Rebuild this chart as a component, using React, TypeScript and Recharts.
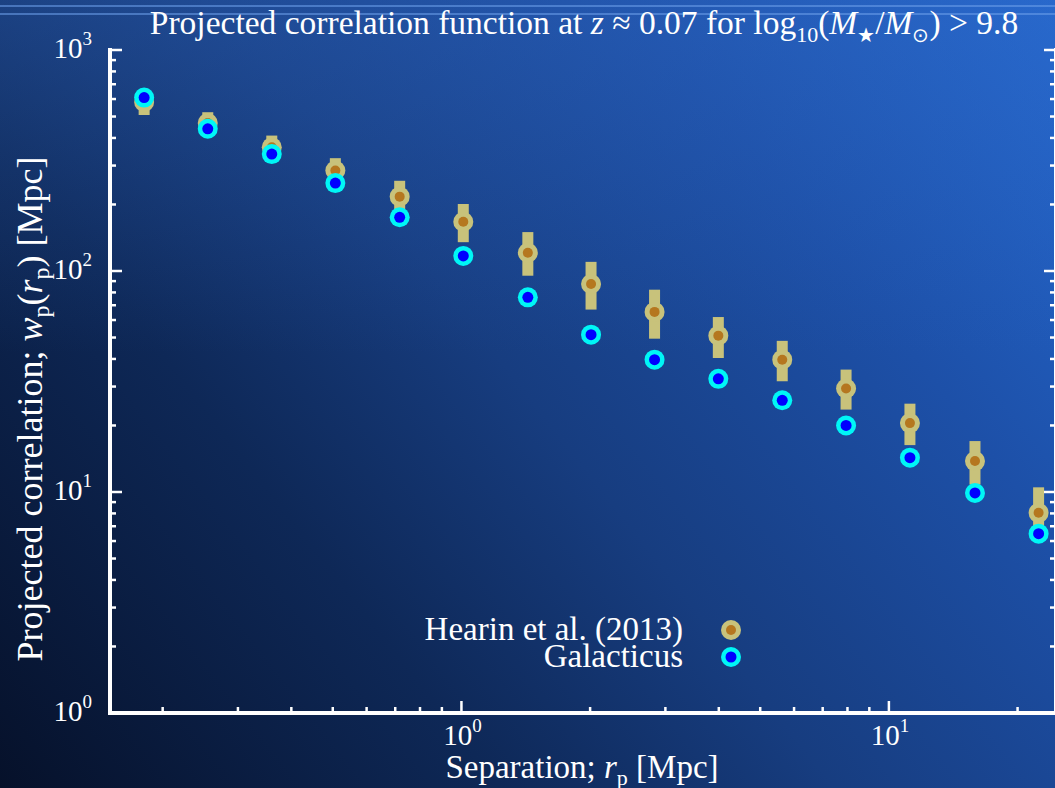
import { ScatterChart, Scatter, XAxis, YAxis, ErrorBar, Legend } from 'recharts'

// separation r_p [Mpc], same bins for both samples
const SEPARATION = [0.181, 0.255, 0.36, 0.507, 0.717, 1.01, 1.43, 2.01, 2.83, 3.99, 5.63, 7.94, 11.2, 15.9, 22.4]

// Hearin et al. (2013) w_p(r_p) with lower / upper bounds of the error bars
const HEARIN_WP = [582, 467, 363, 285, 217, 167, 121, 87.3, 65.3, 51.0, 39.7, 29.4, 20.5, 13.8, 8.05]
const HEARIN_LOW = [508, 417, 321, 250, 180, 135, 95.2, 66.9, 49.4, 40.4, 31.7, 23.6, 16.3, 10.8, 6.0]
const HEARIN_HIGH = [660, 523, 410, 324, 256, 201, 150, 110, 82.3, 61.9, 48.3, 35.8, 25.1, 17.0, 10.5]

// Galacticus model w_p(r_p)
const GALACTICUS_WP = [609, 440, 338, 250, 175, 117, 76.0, 51.5, 39.7, 32.5, 26.0, 20.0, 14.3, 9.9, 6.48]

const X_TICKS = [0.2, 0.3, 0.4, 0.5, 0.6, 0.7, 0.8, 0.9, 1, 2, 3, 4, 5, 6, 7, 8, 9, 10, 20]
const Y_TICKS = [1, 2, 3, 4, 5, 6, 7, 8, 9, 10, 20, 30, 40, 50, 60, 70, 80, 90, 100, 200, 300, 400, 500, 600, 700, 800, 900, 1000]
const MAJOR_TICKS = [1, 10, 100, 1000]
const X_DOMAIN = [0.1506, 24.6]
const Y_DOMAIN = [1, 1000]

const SERIES_NAMES = ['Hearin et al. (2013)', 'Galacticus']

const FONT = '"Liberation Serif", "Times New Roman", serif'
const WHITE = '#ffffff'
const KHAKI = '#c8c27b'
const BROWN = '#b5771f'
const CYAN = '#00f6f6'
const BLUE = '#0000ff'

const hearinData = SEPARATION.map((r, i) => ({
    r,
    wp: HEARIN_WP[i],
    err: [HEARIN_WP[i] - HEARIN_LOW[i], HEARIN_HIGH[i] - HEARIN_WP[i]],
}))
const galacticusData = SEPARATION.map((r, i) => ({ r, wp: GALACTICUS_WP[i] }))

const isMajor = (v: number) => MAJOR_TICKS.includes(v)

function PowerLabel({ x, y, value, anchor }: any) {
    return (
        <text x={x} y={y} textAnchor={anchor} fill={WHITE} fontFamily={FONT} fontSize={29}>
            10<tspan fontSize={19} dy={-13}>{Math.round(Math.log10(value))}</tspan>
        </text>
    )
}

// ticks point inwards, like the original plot
const BottomTick = ({ x, y, payload }: any) => {
    const major = isMajor(payload.value)
    return (
        <g>
            <line x1={x} x2={x} y1={y} y2={y - (major ? 12 : 6)} stroke={WHITE} strokeWidth={2.5} />
            {major && <PowerLabel x={x + 1} y={y + 32} value={payload.value} anchor="middle" />}
        </g>
    )
}
const TopTick = ({ x, y, payload }: any) => (
    <line x1={x} x2={x} y1={y} y2={y + (isMajor(payload.value) ? 12 : 6)} stroke={WHITE} strokeWidth={2.5} />
)
const LeftTick = ({ x, y, payload }: any) => {
    const major = isMajor(payload.value)
    return (
        <g>
            <line x1={x} x2={x + (major ? 12 : 6)} y1={y} y2={y} stroke={WHITE} strokeWidth={2.5} />
            {major && <PowerLabel x={92} y={y + 8} value={payload.value} anchor="end" />}
        </g>
    )
}
const RightTick = ({ x, y, payload }: any) => (
    <line x1={x} x2={x - (isMajor(payload.value) ? 12 : 6)} y1={y} y2={y} stroke={WHITE} strokeWidth={2.5} />
)

const HearinMarker = ({ cx, cy }: any) => (
    <g>
        <circle cx={cx} cy={cy} r={10} fill={KHAKI} />
        <circle cx={cx} cy={cy} r={5} fill={BROWN} />
    </g>
)
const GalacticusMarker = ({ cx, cy }: any) => (
    <g>
        <circle cx={cx} cy={cy} r={10} fill={CYAN} />
        <circle cx={cx} cy={cy} r={5.5} fill={BLUE} />
    </g>
)

function LegendBox() {
    const markers = [HearinMarker, GalacticusMarker]
    return (
        <div style={{ fontFamily: FONT, fontSize: 33, color: WHITE }}>
            {SERIES_NAMES.map((name, i) => {
                const Marker = markers[i]
                return (
                    <div key={name} style={{ display: 'flex', alignItems: 'center', height: 27 }}>
                        <span style={{ width: 303, textAlign: 'right', lineHeight: '27px', whiteSpace: 'nowrap' }}>{name}</span>
                        <svg width={22} height={22} style={{ marginLeft: 37 }}>
                            <Marker cx={11} cy={11} />
                        </svg>
                    </div>
                )
            })}
        </div>
    )
}

const axisLine = { stroke: WHITE, strokeWidth: 4, strokeLinecap: 'square' as const }

export default function App() {
    return (
        <div
            style={{
                position: 'absolute',
                left: 0,
                top: 0,
                width: 1055,
                height: 788,
                overflow: 'hidden',
                background:
                    'linear-gradient(to bottom, rgba(50,105,195,0.32) 0%, rgba(50,105,195,0) 45%), ' +
                    'linear-gradient(52deg, #06112a 0%, #0e2857 30%, #173d80 50%, #1d50a8 75%, #2468d0 100%)',
            }}
        >
            <div style={{ position: 'absolute', left: 0, top: 5, width: 1055, height: 2, background: 'rgba(110,160,235,0.55)' }} />
            <div style={{ position: 'absolute', left: 0, top: 13, width: 1055, height: 2, background: 'rgba(110,160,235,0.55)' }} />

            <ScatterChart width={1057} height={788} margin={{ top: 50, right: 0, bottom: 0, left: 0 }}>
                <XAxis xAxisId="b" dataKey="r" type="number" scale="log" domain={X_DOMAIN} allowDataOverflow
                    ticks={X_TICKS} interval={0} height={75} tickSize={0} tickMargin={0} tickLine={false}
                    axisLine={axisLine} tick={<BottomTick />} />
                <XAxis xAxisId="t" orientation="top" type="number" scale="log" domain={X_DOMAIN} allowDataOverflow
                    ticks={X_TICKS} interval={0} height={0} tickSize={0} tickMargin={0} tickLine={false}
                    axisLine={axisLine} tick={<TopTick />} />
                <YAxis yAxisId="l" dataKey="wp" type="number" scale="log" domain={Y_DOMAIN} allowDataOverflow
                    ticks={Y_TICKS} interval={0} width={110} tickSize={0} tickMargin={0} tickLine={false}
                    axisLine={axisLine} tick={<LeftTick />} />
                <YAxis yAxisId="r" orientation="right" type="number" scale="log" domain={Y_DOMAIN} allowDataOverflow
                    ticks={Y_TICKS} interval={0} width={1} tickSize={0} tickMargin={0} tickLine={false}
                    axisLine={axisLine} tick={<RightTick />} />

                <Scatter name={SERIES_NAMES[0]} data={hearinData} xAxisId="b" yAxisId="l"
                    shape={<HearinMarker />} isAnimationActive={false}>
                    <ErrorBar dataKey="err" direction="y" width={0} strokeWidth={11} stroke={KHAKI} isAnimationActive={false} />
                </Scatter>
                <Scatter name={SERIES_NAMES[1]} data={galacticusData} xAxisId="b" yAxisId="l"
                    shape={<GalacticusMarker />} isAnimationActive={false} />

                <Legend layout="horizontal" align="center" verticalAlign="middle"
                    wrapperStyle={{ left: 380, top: 616, width: 380 }} content={() => <LegendBox />} />
            </ScatterChart>

            <svg width={1055} height={788} style={{ position: 'absolute', left: 0, top: 0, pointerEvents: 'none' }}
                fontFamily={FONT} fill={WHITE}>
                <text x={584} y={34} textAnchor="middle" fontSize={33.5}>
                    {'Projected correlation function at '}
                    <tspan fontStyle="italic">z</tspan>
                    {' ≈ 0.07 for log'}
                    <tspan fontSize={22} dy={8}>10</tspan>
                    <tspan dy={-8}>(</tspan>
                    <tspan fontStyle="italic">M</tspan>
                    <tspan fontSize={20} dy={8}>★</tspan>
                    <tspan dy={-8}>/</tspan>
                    <tspan fontStyle="italic">M</tspan>
                    <tspan fontSize={20} dy={8}>⊙</tspan>
                    <tspan dy={-8}>{') > 9.8'}</tspan>
                </text>
                <text x={582} y={778} textAnchor="middle" fontSize={33}>
                    {'Separation; '}
                    <tspan fontStyle="italic">r</tspan>
                    <tspan fontSize={22} dy={7}>p</tspan>
                    <tspan dy={-7}>{' [Mpc]'}</tspan>
                </text>
                <text x={0} y={0} textAnchor="middle" fontSize={36} transform="translate(42 409) rotate(-90)">
                    {'Projected correlation; '}
                    <tspan fontStyle="italic">w</tspan>
                    <tspan fontSize={24} dy={7}>p</tspan>
                    <tspan dy={-7}>(</tspan>
                    <tspan fontStyle="italic">r</tspan>
                    <tspan fontSize={24} dy={7}>p</tspan>
                    <tspan dy={-7}>{') [Mpc]'}</tspan>
                </text>
            </svg>
        </div>
    )
}
